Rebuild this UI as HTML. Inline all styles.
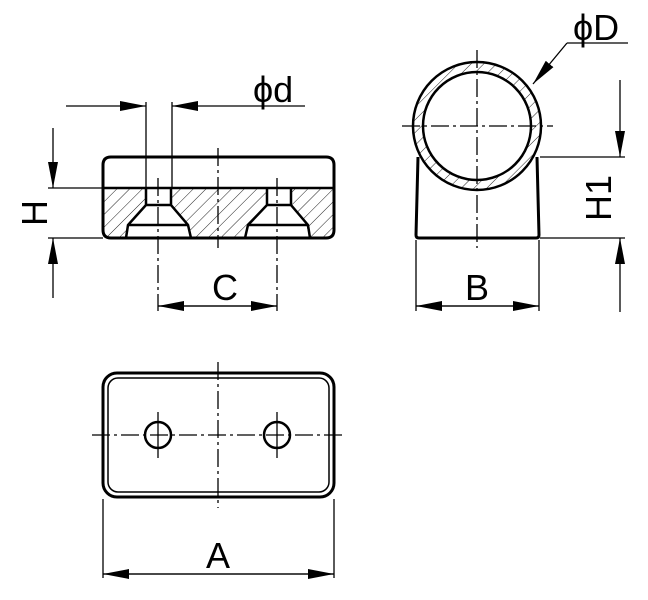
<!DOCTYPE html>
<html><head><meta charset="utf-8"><style>html,body{margin:0;padding:0;background:#fff}svg{display:block}</style></head><body>
<svg width="648" height="600" viewBox="0 0 648 600" xmlns="http://www.w3.org/2000/svg" font-family="Liberation Sans, DejaVu Sans, sans-serif">
<defs>
<pattern id="h" patternUnits="userSpaceOnUse" width="9" height="9" patternTransform="rotate(45)">
<rect width="9" height="9" fill="#fff"/><line x1="0" y1="0" x2="0" y2="9" stroke="#222" stroke-width="1"/></pattern>
<marker id="a" markerWidth="26" markerHeight="10" refX="26" refY="5" orient="auto" markerUnits="userSpaceOnUse"><path d="M0,0 L26,5 L0,10 Z" fill="#000"/></marker>
</defs>
<g stroke="#000" fill="none">
<path d="M103,188 H334 V230 Q334,238 326,238 H310 L307,225 L291,205 V188 H267 V205 L248,225 L245,238 H191 L188,225 L171,205 V188 H146 V205 L128,225 L126,238 H111 Q103,238 103,230 Z" fill="url(#h)" stroke-width="1"/>
<path d="M111,157 H326 Q334,157 334,165 V230 Q334,238 326,238 H111 Q103,238 103,230 V165 Q103,157 111,157 Z" stroke-width="3"/>
<line x1="103" y1="188" x2="334" y2="188" stroke-width="2.5"/>
<path d="M146,188 V205 L128,225 L126,238 M171,188 V205 L188,225 L191,238 M146,205 H171 M128,225 H188" stroke-width="2.5"/>
<path d="M267,188 V205 L248,225 L245,238 M291,188 V205 L308,225 L310,238 M267,205 H291 M248,225 H308" stroke-width="2.5"/>
<g stroke-width="1.3">
<line x1="146" y1="102" x2="146" y2="188"/><line x1="172" y1="102" x2="172" y2="188"/>
<line x1="66" y1="106" x2="146" y2="106" marker-end="url(#a)"/><line x1="305" y1="106" x2="172" y2="106" marker-end="url(#a)"/>
<line x1="48" y1="188" x2="103" y2="188"/><line x1="48" y1="238" x2="103" y2="238"/>
<line x1="53" y1="128" x2="53" y2="188" marker-end="url(#a)"/><line x1="53" y1="298" x2="53" y2="238" marker-end="url(#a)"/>
<line x1="158" y1="178" x2="158" y2="311" stroke-dasharray="18,4,3,4"/>
<line x1="277" y1="178" x2="277" y2="311" stroke-dasharray="18,4,3,4"/>
<line x1="218" y1="148" x2="218" y2="248" stroke-dasharray="18,4,3,4"/>
<line x1="158" y1="306" x2="277" y2="306" marker-end="url(#a)"/><line x1="277" y1="306" x2="158" y2="306" marker-end="url(#a)"/>
</g>
<path d="M418,157 L416,235 Q416,238 419,238 L536,238 Q539,238 539,235 L537,157" stroke-width="3"/>
<circle cx="477" cy="126" r="59" stroke="url(#h)" stroke-width="10"/>
<circle cx="477" cy="126" r="64" stroke-width="2.5"/>
<circle cx="477" cy="126" r="54" stroke-width="2.5"/>
<g stroke-width="1.3">
<line x1="402" y1="126" x2="553" y2="126" stroke-dasharray="18,4,3,4"/>
<line x1="477" y1="50" x2="477" y2="248" stroke-dasharray="18,4,3,4"/>
<line x1="567" y1="43" x2="628" y2="43"/><line x1="567" y1="43" x2="533" y2="84" marker-end="url(#a)"/>
<line x1="540" y1="157" x2="625" y2="157"/><line x1="540" y1="238" x2="625" y2="238"/>
<line x1="620" y1="80" x2="620" y2="157" marker-end="url(#a)"/><line x1="620" y1="312" x2="620" y2="238" marker-end="url(#a)"/>
<line x1="416" y1="240" x2="416" y2="311"/><line x1="539" y1="240" x2="539" y2="311"/>
<line x1="416" y1="306" x2="539" y2="306" marker-end="url(#a)"/><line x1="539" y1="306" x2="416" y2="306" marker-end="url(#a)"/>
</g>
<rect x="103" y="373" width="231" height="124" rx="14" stroke-width="3"/>
<rect x="108" y="378" width="221" height="114" rx="10" stroke-width="1.5"/>
<circle cx="158" cy="435" r="13" stroke-width="2.5"/><circle cx="277" cy="435" r="13" stroke-width="2.5"/>
<g stroke-width="1.3">
<line x1="92" y1="435" x2="346" y2="435" stroke-dasharray="18,4,3,4"/>
<line x1="218" y1="362" x2="218" y2="508" stroke-dasharray="18,4,3,4"/>
<line x1="158" y1="412" x2="158" y2="458"/><line x1="277" y1="412" x2="277" y2="458"/>
<line x1="103" y1="499" x2="103" y2="578"/><line x1="334" y1="499" x2="334" y2="578"/>
<line x1="103" y1="574" x2="334" y2="574" marker-end="url(#a)"/><line x1="334" y1="574" x2="103" y2="574" marker-end="url(#a)"/>
</g>
</g>
<g fill="#000" font-size="36">
<text x="253" y="102">ϕd</text>
<text x="573" y="40">ϕD</text>
<text x="225" y="300" text-anchor="middle">C</text>
<text x="477" y="300" text-anchor="middle">B</text>
<text x="218" y="568" text-anchor="middle">A</text>
<text transform="translate(47,213) rotate(-90)" text-anchor="middle">H</text>
<text transform="translate(611,198) rotate(-90)" text-anchor="middle">H1</text>
</g>
</svg>
</body></html>
